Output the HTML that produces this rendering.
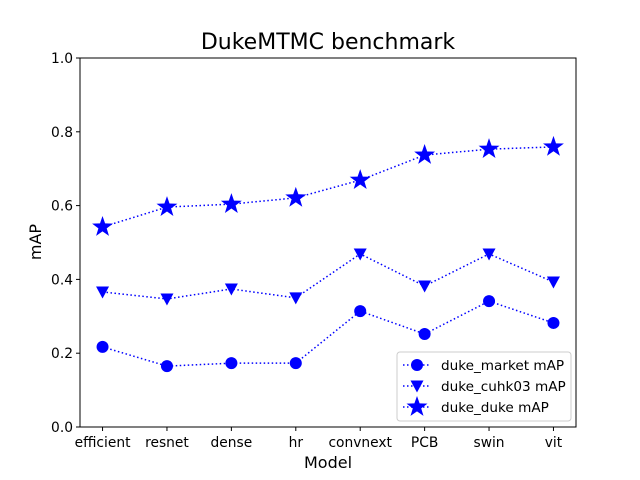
<!DOCTYPE html>
<html><head><meta charset="utf-8"><style>body{margin:0;background:#fff}svg{display:block;font-family:"DejaVu Sans","Liberation Sans",sans-serif}</style></head>
<body>
<svg id="chart" width="640" height="480" viewBox="0 0 640 480"></svg>
<script>
const categories=["efficient","resnet","dense","hr","convnext","PCB","swin","vit"];
const marketValues=[0.217,0.165,0.173,0.173,0.314,0.252,0.341,0.282];
const cuhkValues=[0.366,0.347,0.374,0.350,0.469,0.382,0.469,0.393];
const dukeValues=[0.542,0.596,0.604,0.621,0.669,0.737,0.753,0.759];
const yTicks=[0,0.2,0.4,0.6,0.8,1.0];
const yTickLabels=["0.0","0.2","0.4","0.6","0.8","1.0"];
const L=80,R=576,T=58,B=427;
const ns="http://www.w3.org/2000/svg";
const svg=document.getElementById('chart');
function xs(i){return L+(i+0.35)/(categories.length-1+0.7)*(R-L);}
function ys(v){return B-v*(B-T);}
function mk(t,a,p){const e=document.createElementNS(ns,t);for(const k in a)e.setAttribute(k,a[k]);(p||svg).appendChild(e);return e;}
const title=mk('text',{x:328,y:49,'text-anchor':'middle','font-size':22});title.textContent='DukeMTMC benchmark';


const frame=mk('rect',{x:L,y:T,width:R-L,height:B-T,fill:'none',stroke:'#000','stroke-width':1});


yTicks.forEach((v,i)=>{const y=ys(v);mk('line',{x1:L-4,x2:L,y1:y,y2:y,stroke:'#000'});
const t=mk('text',{x:L-7,y:y+5,'text-anchor':'end','font-size':13.8});t.textContent=yTickLabels[i];

});
categories.forEach((c,i)=>{const x=xs(i);mk('line',{x1:x,x2:x,y1:B,y2:B+4,stroke:'#000'});
const t=mk('text',{x:x,y:B+20,'text-anchor':'middle','font-size':13.8});t.textContent=c;

});
const xl=mk('text',{x:328,y:468,'text-anchor':'middle','font-size':16});xl.textContent='Model';


const yl=mk('text',{x:41,y:242,'text-anchor':'middle','font-size':16,transform:'rotate(-90 41 242)'});yl.textContent='mAP';


function star(cx,cy,r){let p=[];for(let k=0;k<10;k++){const a=-Math.PI/2+k*Math.PI/5;const rr=k%2?r*0.4:r;p.push((cx+rr*Math.cos(a)).toFixed(1)+','+(cy+rr*Math.sin(a)).toFixed(1));}return p.join(' ');}
function marker(type,x,y,name){let e;
if(type==='o')e=mk('circle',{cx:x,cy:y,r:6,fill:'#0000ff'});
else if(type==='v')e=mk('polygon',{points:`${x-6.5},${y-5.5} ${x+6.5},${y-5.5} ${x},${y+6.5}`,fill:'#0000ff'});
else e=mk('polygon',{points:star(x,y,11),fill:'#0000ff'});

}
function series(vals,type,name){const pts=vals.map((v,i)=>xs(i)+','+ys(v)).join(' ');
const l=mk('polyline',{points:pts,fill:'none',stroke:'#0000ff','stroke-width':1.5,'stroke-dasharray':'1.5,2.5'});


vals.forEach((v,i)=>marker(type,xs(i),ys(v),name+'-point'));}
series(marketValues,'o','duke-market');
series(cuhkValues,'v','duke-cuhk03');
series(dukeValues,'*','duke-duke');
const lg=mk('rect',{x:397,y:352,width:174,height:69,rx:3,fill:'#fff','fill-opacity':0.8,stroke:'#ccc'});


[['o','duke_market mAP'],['v','duke_cuhk03 mAP'],['*','duke_duke mAP']].forEach((d,i)=>{const y=365+i*21;
mk('line',{x1:403,x2:431,y1:y,y2:y,stroke:'#0000ff','stroke-width':1.5,'stroke-dasharray':'1.5,2.5'});
marker(d[0],417,y,'legend-marker');
const t=mk('text',{x:441,y:y+5,'font-size':13.6});t.textContent=d[1];

});
</script>
</body></html>
